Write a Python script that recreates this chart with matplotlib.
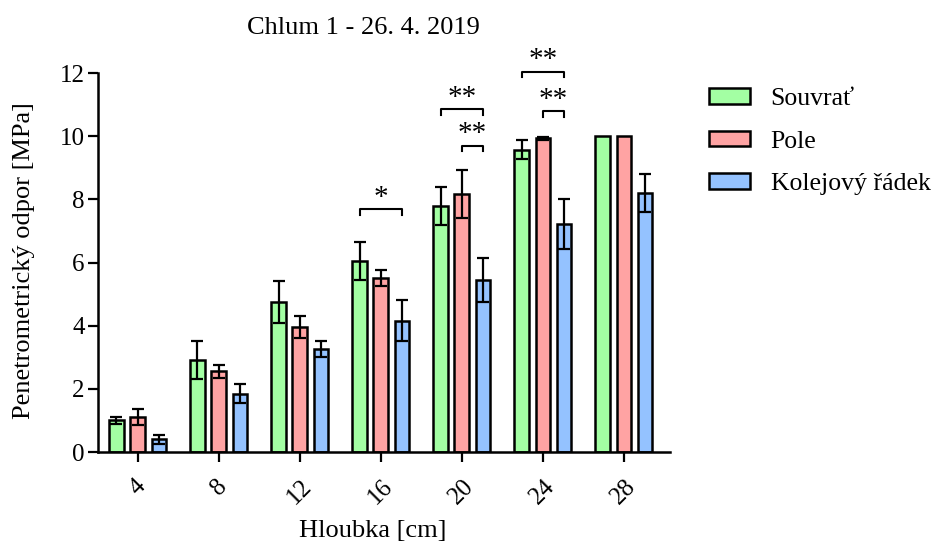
import numpy as np
import matplotlib.pyplot as plt

plt.rcParams['font.family'] = ['Liberation Serif', 'DejaVu Serif']

# data
depths = ['4', '8', '12', '16', '20', '24', '28']
series = ['Souvrať', 'Pole', 'Kolejový řádek']
souvrat = [1.0, 2.9, 4.75, 6.05, 7.8, 9.57, 10.0]
souvrat_err = [0.1, 0.6, 0.65, 0.6, 0.6, 0.3, 0.0]
pole = [1.1, 2.55, 3.95, 5.5, 8.17, 9.93, 10.0]
pole_err = [0.25, 0.2, 0.35, 0.25, 0.75, 0.05, 0.0]
kolej = [0.4, 1.85, 3.25, 4.15, 5.45, 7.22, 8.2]
kolej_err = [0.15, 0.3, 0.25, 0.65, 0.7, 0.78, 0.6]
colors = ['#a3ffa3', '#ffa3a3', '#94c2ff']

# significance: (group, series from, series to, height, label)
signif = [(3, 0, 2, 7.69, '*'),
          (4, 0, 2, 10.85, '**'),
          (4, 1, 2, 9.70, '**'),
          (5, 0, 2, 12.04, '**'),
          (5, 1, 2, 10.80, '**')]

fig = plt.figure(figsize=(9.35, 5.45), dpi=100)
ax = fig.add_axes([0.1048, 0.1706, 0.6118, 0.6954])

x = np.arange(len(depths))
w = 0.18
offs = [-0.262, 0.0, 0.262]
vals = [souvrat, pole, kolej]
errs = [souvrat_err, pole_err, kolej_err]
for i in range(3):
    ax.bar(x + offs[i], vals[i], width=w, color=colors[i], edgecolor='black',
           linewidth=1.8, label=series[i], zorder=2)
    e = np.array(errs[i])
    m = e > 0
    ax.errorbar((x + offs[i])[m], np.array(vals[i])[m], yerr=e[m], fmt='none',
                ecolor='black', elinewidth=1.6, capsize=4.5, capthick=1.6, zorder=3)

for g, a, b, h, lab in signif:
    x0 = g + offs[a]
    x1 = g + offs[b]
    ax.plot([x0, x0, x1, x1], [h - 0.18, h, h, h - 0.18], color='black',
            lw=1.5, clip_on=False, zorder=4)
    ax.text((x0 + x1) / 2, h - 0.05, lab, ha='center', va='bottom',
            fontsize=21, clip_on=False)

ax.set_xlim(-0.49, 6.57)
ax.set_ylim(0, 12)
ax.set_yticks(range(0, 13, 2))
ax.set_xticks(x)
ax.set_xticklabels(depths, rotation=45, ha='center', va='top')
ax.tick_params(axis='both', direction='out', length=7.5, width=1.6, labelsize=18)
ax.tick_params(axis='x', pad=9)
ax.tick_params(axis='y', pad=2)
for s in ['top', 'right']:
    ax.spines[s].set_visible(False)
for s in ['left', 'bottom']:
    ax.spines[s].set_linewidth(1.8)

ax.set_ylabel('Penetrometrický odpor [MPa]', fontsize=19)
ax.set_xlabel('Hloubka [cm]', fontsize=19)
ax.yaxis.set_label_coords(-0.110, 0.505)
ax.xaxis.set_label_coords(0.481, -0.18)

fig.text(363 / 935, 1 - 28 / 545, 'Chlum 1 - 26. 4. 2019', ha='center',
         va='center', fontsize=19)

leg = ax.legend(loc='upper left', bbox_to_anchor=(709 / 935, 1 - 88 / 545),
                bbox_transform=fig.transFigure, frameon=False, fontsize=18.5,
                handlelength=1.6, handleheight=0.55, handletextpad=0.8,
                labelspacing=0.8, borderpad=0, borderaxespad=0)
for p in leg.get_patches():
    p.set_linewidth(1.8)

fig.savefig('out.png', dpi=100)
